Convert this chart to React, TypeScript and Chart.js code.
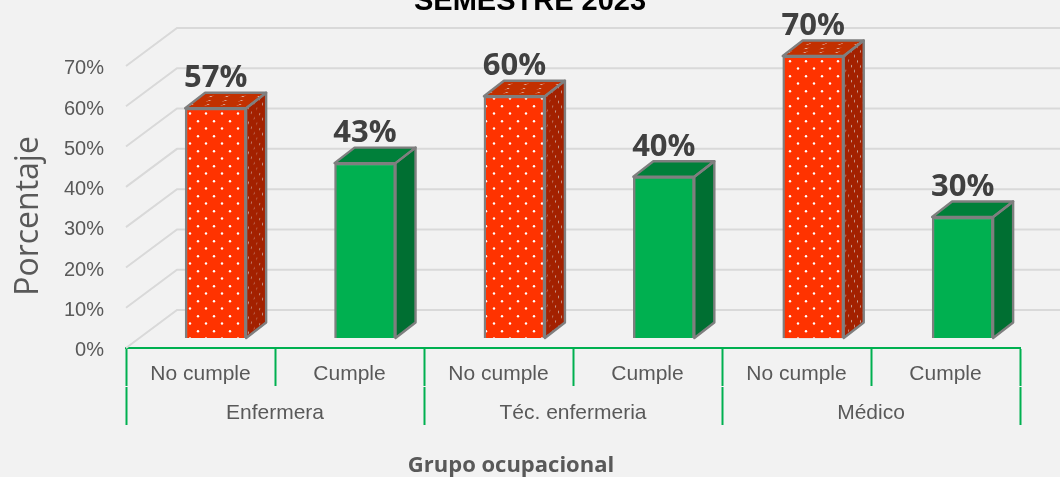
import React, { useEffect, useRef } from "react";
import { Chart, registerables } from "chart.js";

Chart.register(...registerables);

const titleText = "SEMESTRE 2023";
const xTitleText = "Grupo ocupacional";
const yTitleText = "Porcentaje";
const categories = ["No cumple", "Cumple", "No cumple", "Cumple", "No cumple", "Cumple"];
const groups = ["Enfermera", "Téc. enfermeria", "Médico"];
const values = [57, 43.4, 60, 40, 70, 30];
const kinds = ["red", "green", "red", "green", "red", "green"];
const yTicks = [0, 10, 20, 30, 40, 50, 60, 70];

const BG = "#F2F2F2";
const GRID = "#D9D9D9";
const GREEN_LINE = "#00B050";
const TEXT = "#595959";
const WALL = { dx: 51, dy: -38 };
const DEPTH = { dx: 20, dy: -15.5 };

function dotPattern(ctx: CanvasRenderingContext2D, bg: string, dot: string) {
  const c = document.createElement("canvas");
  c.width = 16;
  c.height = 15;
  const g = c.getContext("2d")!;
  g.fillStyle = bg;
  g.fillRect(0, 0, 16, 15);
  g.fillStyle = dot;
  for (const [x, y] of [[14, 8.5], [6, 1.2]]) {
    g.beginPath();
    g.arc(x, y, 1.2, 0, Math.PI * 2);
    g.fill();
  }
  return ctx.createPattern(c, "repeat")!;
}

const wallPlugin = {
  id: "wall",
  beforeDatasetsDraw(chart: any) {
    const { ctx, chartArea, width } = chart;
    const wall = chart.scales.yWall;
    ctx.save();
    ctx.strokeStyle = GRID;
    ctx.lineWidth = 2;
    yTicks.forEach((t) => {
      const py = wall.getPixelForValue(t);
      ctx.beginPath();
      ctx.moveTo(chartArea.left, py);
      ctx.lineTo(chartArea.left + WALL.dx, py + WALL.dy);
      ctx.lineTo(width, py + WALL.dy);
      ctx.stroke();
    });
    ctx.restore();
  },
};

const depthPlugin = {
  id: "depth",
  beforeDatasetDraw(chart: any) {
    const { ctx } = chart;
    const { dx, dy } = DEPTH;
    const bars = chart.getDatasetMeta(0).data;
    const sideRed = dotPattern(ctx, "#A32100", "#C9A79C");
    const topRed = dotPattern(ctx, "#C23000", "#E0B0A0");
    bars.forEach((bar: any, i: number) => {
      const { x, y, base, width } = bar.getProps(["x", "y", "base", "width"], true);
      const l = x - width / 2;
      const r = x + width / 2;
      const red = kinds[i] === "red";
      ctx.save();
      ctx.lineWidth = 2.4;
      ctx.strokeStyle = "#7F7F7F";
      ctx.lineJoin = "round";

      const side = new Path2D();
      side.moveTo(r, y);
      side.lineTo(r + dx, y + dy);
      side.lineTo(r + dx, base + dy);
      side.lineTo(r, base);
      side.closePath();
      const top = new Path2D();
      top.moveTo(l, y);
      top.lineTo(l + dx, y + dy);
      top.lineTo(r + dx, y + dy);
      top.lineTo(r, y);
      top.closePath();

      ctx.save();
      ctx.clip(side);
      ctx.transform(0.36, (dy / dx) * 0.36, 0, 1, r, y);
      ctx.fillStyle = red ? sideRed : "#006F32";
      ctx.fillRect(-10, -60, 100, base - y + 120);
      ctx.restore();

      ctx.save();
      ctx.clip(top);
      ctx.transform(1, 0, dx / dy, 0.55, l, y);
      ctx.fillStyle = red ? topRed : "#00803A";
      ctx.fillRect(-100, -60, 300, 80);
      ctx.restore();

      ctx.stroke(side);
      ctx.stroke(top);
      ctx.restore();
    });
  },
};

const textPlugin = {
  id: "texts",
  afterDatasetsDraw(chart: any) {
    const { ctx } = chart;
    const bars = chart.getDatasetMeta(0).data;
    ctx.save();
    ctx.fillStyle = "#404040";
    ctx.font = "bold 31px 'Open Sans'";
    ctx.textAlign = "center";
    ctx.textBaseline = "alphabetic";
    bars.forEach((bar: any, i: number) => {
      const { x, y } = bar.getProps(["x", "y"], true);
      ctx.fillText(Math.round(values[i]) + "%", x, y - 21);
    });
    ctx.fillStyle = TEXT;
    ctx.font = "bold 22px 'Open Sans'";
    ctx.fillText(xTitleText, 511, 472);
    ctx.translate(38, 216);
    ctx.rotate(-Math.PI / 2);
    ctx.font = "32px 'Open Sans'";
    ctx.fillText(yTitleText, 0, 0);
    ctx.restore();
  },
};

export default function App() {
  const ref = useRef<HTMLCanvasElement>(null);
  useEffect(() => {
    const ctx = ref.current!.getContext("2d")!;
    const redFace = dotPattern(ctx, "#FF3300", "#FFFFFF");
    const chart = new Chart(ctx, {
      type: "bar",
      data: {
        labels: categories,
        datasets: [
          {
            data: values.map((v, i) => ({ x: i, y: v })),
            xAxisID: "xBar",
            yAxisID: "yBar",
            barThickness: 61,
            clip: false,
            backgroundColor: kinds.map((k) => (k === "red" ? redFace : "#00B050")),
            borderColor: "#7F7F7F",
            borderWidth: 2.4,
          },
        ],
      },
      options: {
        responsive: false,
        animation: false,
        layout: { padding: 0 },
        plugins: {
          legend: { display: false },
          tooltip: { enabled: false },
          title: {
            display: true,
            text: titleText,
            color: "#000000",
            font: { family: "'Liberation Sans'", size: 29, weight: "bold", lineHeight: 1.2 },
            padding: { top: -15, bottom: 46.2 },
            align: "center",
          },
        },
        scales: {
          y: {
            position: "left",
            min: 0.7,
            max: 70.7,
            afterBuildTicks: (s: any) => {
              s.ticks = yTicks.map((value) => ({ value }));
            },
            ticks: {
              color: TEXT,
              padding: 22,
              font: { family: "'Liberation Sans'", size: 20 },
              callback: (v: any) => v + "%",
            },
            grid: { drawOnChartArea: false, drawTicks: false, display: false },
            border: { display: false },
            afterFit: (s: any) => {
              s.width = 126;
            },
          },
          yWall: { display: false, position: "left", min: 0, max: 70 },
          yBar: { display: false, position: "left", min: -2.5, max: 67.5 },
          yRight: {
            position: "right",
            ticks: { display: false },
            grid: { display: false },
            border: { display: false },
            afterFit: (s: any) => {
              s.width = 40;
            },
          },
          xBar: {
            type: "linear",
            display: false,
            position: "bottom",
            min: -0.6,
            max: 5.384,
            offset: false,
            grid: { offset: false },
          },
          x: {
            type: "category",
            position: "bottom",
            labels: categories,
            offset: true,
            weight: 1,
            grid: {
              offset: true,
              drawOnChartArea: false,
              drawTicks: true,
              tickLength: 38,
              tickColor: GREEN_LINE,
              tickWidth: 2,
            },
            border: { display: true, color: GREEN_LINE, width: 2 },
            ticks: {
              color: TEXT,
              padding: -24,
              maxRotation: 0,
              autoSkip: false,
              font: { family: "'Liberation Sans'", size: 21 },
            },
            afterFit: (s: any) => {
              s.height = 39;
            },
          },
          xGroup: {
            type: "category",
            position: "bottom",
            labels: groups,
            offset: true,
            weight: 2,
            grid: {
              offset: true,
              drawOnChartArea: false,
              drawTicks: true,
              tickLength: 38,
              tickColor: GREEN_LINE,
              tickWidth: 2,
            },
            border: { display: false },
            ticks: {
              color: TEXT,
              padding: -24,
              maxRotation: 0,
              autoSkip: false,
              font: { family: "'Liberation Sans'", size: 21 },
            },
            afterFit: (s: any) => {
              s.height = 90;
            },
          },
        },
      } as any,
      plugins: [wallPlugin, depthPlugin, textPlugin],
    });
    return () => chart.destroy();
  }, []);
  return (
    <canvas
      ref={ref}
      width={1060}
      height={477}
      style={{ position: "absolute", left: 0, top: 0, background: BG, display: "block" }}
    />
  );
}
